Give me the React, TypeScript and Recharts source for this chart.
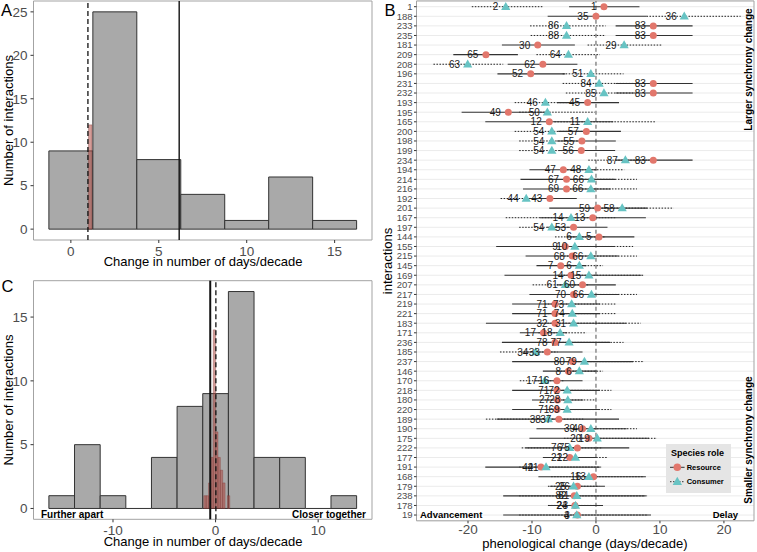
import React from "react";
import {
  ComposedChart,
  ScatterChart,
  Scatter,
  XAxis,
  YAxis,
  CartesianGrid,
  ReferenceArea,
  ReferenceLine,
  ErrorBar,
  LabelList,
} from "recharts";

const FONT = '"Liberation Sans", Arial, Helvetica, sans-serif';
const TICK = "#4D4D4D";
const GRID = "#EBEBEB";
const BORDER = "#A3A3A3";
const RES = "#E2776C";
const CON = "#67C3C3";

// panel A: change in synchrony (bins of 2.5 days/decade)
const binsA = [0, 2.5, 5, 7.5, 10, 12.5, 15];
const countsA = [9, 25, 8, 4, 1, 6, 1];
const nullBinsA = [1.1];
const nullCountsA = [12];
const dashedA = 0.97;
const solidA = 6.16;

// panel C: change in asynchrony
const binsC = [-15, -12.5, -10, -7.5, -5, -2.5, 0, 2.5, 5, 7.5, 10, 12.5];
const countsC = [1, 5, 1, 0, 4, 8, 9, 17, 4, 4, 0, 1];
const nullBinsC = [-1.03, -0.8, -0.57, -0.34, -0.11, 0.12, 0.35, 0.58, 0.81, 1.04, 1.27];
const nullCountsC = [1, 1, 2, 4, 14, 6, 4, 3, 2, 0, 1];
const dashedC = 0.03;
const solidC = -0.52;

// panel B: one row per interaction
const interactions = [
  "1", "188", "233", "235", "181", "209", "208", "196", "231", "232",
  "193", "195", "165", "200", "198", "199", "234", "194", "214", "216",
  "192", "201", "167", "197", "144", "155", "215", "145", "169", "207",
  "217", "219", "221", "183", "171", "236", "185", "237", "146", "170",
  "218", "180", "220", "189", "190", "175", "222", "177", "191", "168",
  "179", "238", "178", "19",
];
const resMean = [
  1.25, 0, 8.96, 8.96, -9.1, -17.2, -8.3, -10.2, 8.96, 8.96,
  -1.3, -13.7, -7.3, -1.5, -2.2, -2.3, 8.96, -5.1, -4.6, -4.6,
  -7.2, 0.26, -0.5, -3.5, 0.47, -4.8, -3.7, -5.5, -3.9, -2.1,
  -3.5, -6.4, -6.4, -6.4, -8.2, -6.4, -7.6, -3.7, -4.3, -6.1,
  -6.1, -6.0, -6.1, -5.8, -2.1, -1.1, -2.9, -4.1, -8.6, -0.4,
  -2.9, -3.4, -3.3, -2.9,
];
const resLow = [
  -4.2, -7.55, 3.07, 3.07, -14.7, -22.3, -13.8, -15.4, 3.07, 3.07,
  -6.1, -21.0, -17.3, -5.9, -6.1, -5.8, 3.07, -10.4, -11.8, -11.4,
  -10.8, -7.3, -8.75, -7.6, -4.6, -15.6, -11.0, -9.3, -14.3, -6.1,
  -10.4, -13.1, -13.1, -17.2, -11.9, -14.7, -11.5, -13.1, -8.3, -9.5,
  -13.1, -10.0, -13.1, -15.5, -9.3, -10.4, -11.0, -8.3, -17.3, -9.0,
  -7.2, -14.5, -7.4, -14.5,
];
const resHigh = [
  6.8, 7.9, 15.1, 15.1, -3.3, -12.2, -2.9, -4.8, 15.1, 15.1,
  3.6, -7.7, 2.7, 3.9, 3.1, 3.0, 15.1, 0.1, 3.0, 2.3,
  -3.0, 8.0, 7.8, 1.8, 6.0, 3.0, 3.5, -1.5, 7.1, 3.1,
  3.5, 0.6, 0.6, 4.7, -4.5, 2.2, -2.1, 5.8, 0.1, -2.1,
  0.6, -2.0, 0.6, 3.6, 4.8, 8.3, 5.2, 0.1, 0.6, 7.8,
  1.4, 7.7, 1.1, 8.6,
];
const resId = [
  "1", "35", "83", "83", "30", "65", "62", "52", "83", "83",
  "45", "49", "12", "57", "55", "56", "83", "47", "67", "69",
  "43", "59", "13", "53", "5", "9", "68", "7", "14", "60",
  "70", "71", "71", "32", "17", "78", "33", "80", "8", "16",
  "71", "27", "71", "37", "39", "20", "75", "21", "42", "13",
  "26", "82", "24", "3",
];
const conMean = [
  -14.1, 13.8, -4.6, -4.6, 4.4, -4.3, -20.05, -0.8, 0.5, 1.25,
  -7.9, -7.6, -1.3, -6.9, -6.9, -6.9, 4.6, -1.1, -0.7, -0.8,
  -10.9, 4.1, -3.9, -6.9, -2.6, -3.3, -0.8, -2.6, -1.1, -4.8,
  -0.7, -3.8, -3.7, -3.5, -5.6, -4.2, -9.4, -1.8, -2.6, -8.0,
  -4.5, -4.4, -4.5, -7.45, -0.8, 0.2, -4.1, -3.2, -7.8, -1.1,
  -3.5, -3.0, -3.2, -3.0,
];
const conLow = [
  -19.4, 7.9, -10.3, -10.2, -1.3, -9.3, -25.4, -5.2, -5.2, -4.7,
  -12.7, -12.0, -6.5, -12.7, -12.0, -12.0, -1.2, -5.0, -5.0, -5.0,
  -14.9, -1.0, -14.1, -12.0, -6.4, -8.0, -5.0, -6.0, -6.0, -9.9,
  -5.0, -8.0, -8.0, -9.0, -9.0, -9.0, -15.0, -7.0, -6.0, -11.9,
  -9.0, -8.0, -9.0, -17.2, -5.0, -5.0, -11.6, -7.0, -12.0, -7.0,
  -7.5, -12.0, -7.5, -12.0,
];
const conHigh = [
  -8.3, 22.6, 1.5, 1.5, 10.3, 0.6, -14.5, 4.3, 5.8, 5.8,
  -3.0, -0.2, 9.2, -2.0, -2.0, -2.0, 9.0, 4.4, 6.4, 6.4,
  -6.5, 12.1, 3.0, -3.0, 1.5, 5.8, 6.4, 1.1, 7.5, -1.0,
  6.4, 3.1, 3.1, 7.0, -1.5, 4.3, -6.0, 7.4, 1.1, -5.0,
  2.4, 0.0, 2.4, -2.0, 6.4, 9.5, 1.0, 1.7, 0.8, 7.5,
  0.5, 8.1, 0.5, 8.0,
];
const conId = [
  "2", "36", "86", "88", "29", "64", "63", "51", "84", "85",
  "46", "50", "11", "54", "54", "54", "87", "48", "66", "66",
  "44", "58", "14", "54", "6", "10", "66", "6", "15", "61",
  "66", "73", "74", "31", "18", "77", "34", "79", "6", "17",
  "72", "28", "69", "38", "40", "19", "76", "22", "41", "16",
  "25", "81", "23", "4",
];

const rowTicks = interactions.map((_, i) => i + 1);
const resPts = interactions.map((_, i) => ({
  row: i + 1,
  v: resMean[i],
  err: [resMean[i] - resLow[i], resHigh[i] - resMean[i]],
  lab: resId[i],
}));
const conPts = interactions.map((_, i) => ({
  row: i + 1,
  v: conMean[i],
  err: [conMean[i] - conLow[i], conHigh[i] - conMean[i]],
  lab: conId[i],
}));

const xGen = (vals: number[]) => (p: any) =>
  p && p.xAxis && typeof p.xAxis.scale === "function" ? vals.map((v) => p.xAxis.scale(v)) : [];
const yGen = (vals: number[]) => (p: any) =>
  p && p.yAxis && typeof p.yAxis.scale === "function" ? vals.map((v) => p.yAxis.scale(v)) : [];

const noShape = () => <g />;
const circleShape = (p: any) => <circle cx={p.cx} cy={p.cy} r={3.5} fill={RES} />;
const triShape = (p: any) => (
  <polygon
    points={`${p.cx},${p.cy - 4.8} ${p.cx - 4.6},${p.cy + 3.2} ${p.cx + 4.6},${p.cy + 3.2}`}
    fill={CON}
  />
);

interface HistProps {
  top: number;
  height: number;
  margin: { top: number; right: number; bottom: number; left: number };
  bins: number[];
  counts: number[];
  nullBins: number[];
  nullCounts: number[];
  nullWidth: number;
  xDomain: [number, number];
  yDomain: [number, number];
  xTicks: number[];
  xMinor: number[];
  yTicks: number[];
  yMinor: number[];
  dashed: number;
  solid: number;
  solidWidth: number;
}

function HistPanel(p: HistProps) {
  const data = p.bins.map((b, i) => ({ b, n: p.counts[i] }));
  return (
    <div style={{ position: "absolute", left: 0, top: p.top }}>
      <ComposedChart width={380} height={p.height} data={data} margin={p.margin}>
        <CartesianGrid
          stroke={GRID}
          verticalCoordinatesGenerator={xGen([...p.xTicks, ...p.xMinor])}
          horizontalCoordinatesGenerator={yGen([...p.yTicks, ...p.yMinor])}
        />
        <XAxis
          type="number"
          dataKey="b"
          domain={p.xDomain}
          allowDataOverflow
          ticks={p.xTicks}
          interval={0}
          height={20}
          tickSize={3}
          tickMargin={3}
          axisLine={false}
          tickLine={{ stroke: "#333" }}
          tick={{ fontSize: 13.5, fill: TICK }}
        />
        <YAxis
          type="number"
          dataKey="n"
          domain={p.yDomain}
          allowDataOverflow
          ticks={p.yTicks}
          interval={0}
          width={33.5}
          tickSize={3}
          tickMargin={3}
          axisLine={false}
          tickLine={{ stroke: "#333" }}
          tick={{ fontSize: 13.5, fill: TICK }}
        />
        {p.bins.map((b, i) =>
          p.counts[i] > 0 ? (
            <ReferenceArea
              key={`bar${i}`}
              x1={b - 1.25}
              x2={b + 1.25}
              y1={0}
              y2={p.counts[i]}
              fill="#A9A9A9"
              fillOpacity={1}
              stroke="#333"
              strokeWidth={1}
              ifOverflow="visible"
            />
          ) : (
            <ReferenceLine
              key={`zero${i}`}
              segment={[
                { x: b - 1.25, y: 0 },
                { x: b + 1.25, y: 0 },
              ]}
              stroke="#333"
              strokeWidth={1}
            />
          )
        )}
        {p.nullBins.map((b, i) =>
          p.nullCounts[i] > 0 ? (
            <ReferenceArea
              key={`null${i}`}
              x1={b - p.nullWidth / 2}
              x2={b + p.nullWidth / 2}
              y1={0}
              y2={p.nullCounts[i]}
              fill="#B04A44"
              fillOpacity={0.55}
              stroke="#7A2E2A"
              strokeOpacity={0.55}
              strokeWidth={0.6}
              ifOverflow="visible"
            />
          ) : null
        )}
        <ReferenceLine x={p.dashed} stroke="#111" strokeWidth={1.3} strokeDasharray="5 3" />
        <ReferenceLine x={p.solid} stroke="#111" strokeWidth={p.solidWidth} />
        <ReferenceArea
          x1={p.xDomain[0]}
          x2={p.xDomain[1]}
          y1={p.yDomain[0]}
          y2={p.yDomain[1]}
          fill="none"
          stroke={BORDER}
          strokeWidth={1}
          ifOverflow="visible"
        />
      </ComposedChart>
    </div>
  );
}

function PanelB() {
  const xDomain: [number, number] = [-28.05, 24.7];
  const yDomain: [number, number] = [0.4, 54.6];
  return (
    <div style={{ position: "absolute", left: 370, top: 0 }}>
      <ScatterChart width={387} height={552} margin={{ top: 0.94, right: 3, bottom: 0, left: 0 }}>
        <CartesianGrid
          stroke={GRID}
          verticalCoordinatesGenerator={xGen([-25, -20, -15, -10, -5, 0, 5, 10, 15, 20])}
        />
        <XAxis
          type="number"
          dataKey="v"
          domain={xDomain}
          allowDataOverflow
          ticks={[-20, -10, 0, 10, 20]}
          interval={0}
          height={31.2}
          tickSize={2.5}
          tickMargin={1}
          axisLine={false}
          tickLine={{ stroke: "#333" }}
          tick={{ fontSize: 13.5, fill: TICK }}
        />
        <YAxis
          type="number"
          dataKey="row"
          domain={yDomain}
          reversed
          allowDataOverflow
          ticks={rowTicks}
          interval={0}
          tickFormatter={(v: number) => interactions[v - 1]}
          width={46.5}
          tickSize={2.5}
          tickMargin={1.5}
          axisLine={false}
          tickLine={{ stroke: "#333" }}
          tick={{ fontSize: 9.5, fill: TICK }}
        />
        <ReferenceLine x={0} stroke="#707070" strokeWidth={1.2} strokeDasharray="4 3" />
        <Scatter data={conPts} shape={noShape} isAnimationActive={false}>
          <ErrorBar dataKey="err" direction="x" width={0} stroke="#222" strokeWidth={1} strokeDasharray="1.5 1.5" />
        </Scatter>
        <Scatter data={resPts} shape={noShape} isAnimationActive={false}>
          <ErrorBar dataKey="err" direction="x" width={0} stroke="#333" strokeWidth={1.1} />
        </Scatter>
        <Scatter data={resPts} shape={circleShape} isAnimationActive={false}>
          <LabelList dataKey="lab" position="left" offset={3} fontSize={10} fill="#1A1A1A" />
        </Scatter>
        <Scatter data={conPts} shape={triShape} isAnimationActive={false}>
          <LabelList dataKey="lab" position="left" offset={3} fontSize={10} fill="#1A1A1A" />
        </Scatter>
        <ReferenceArea
          x1={xDomain[0]}
          x2={xDomain[1]}
          y1={yDomain[0]}
          y2={yDomain[1]}
          fill="none"
          stroke={BORDER}
          strokeWidth={1}
          ifOverflow="visible"
        />
      </ScatterChart>
    </div>
  );
}

function Overlay() {
  return (
    <svg
      width={757}
      height={552}
      style={{ position: "absolute", left: 0, top: 0, pointerEvents: "none", fontFamily: FONT }}
    >
      <text x={1} y={15.5} fontSize={16.5} fill="#000">A</text>
      <text x={384.5} y={15.5} fontSize={16.5} fill="#000">B</text>
      <text x={1.5} y={292} fontSize={16.5} fill="#000">C</text>

      <text transform="translate(12.5,120.5) rotate(-90)" textAnchor="middle" fontSize={13} fill="#000">
        Number of interactions
      </text>
      <text x={203} y={266} textAnchor="middle" fontSize={13} fill="#000">
        Change in number of days/decade
      </text>
      <text transform="translate(12.5,400) rotate(-90)" textAnchor="middle" fontSize={13} fill="#000">
        Number of interactions
      </text>
      <text x={203} y={546} textAnchor="middle" fontSize={13} fill="#000">
        Change in number of days/decade
      </text>
      <text x={41} y={518} fontSize={10} fontWeight={700} fill="#000">Further apart</text>
      <text x={366} y={518} textAnchor="end" fontSize={10} fontWeight={700} fill="#000">
        Closer together
      </text>

      <text transform="translate(391.5,261) rotate(-90)" textAnchor="middle" fontSize={13} fill="#000">
        interactions
      </text>
      <text x={585} y={547.5} textAnchor="middle" fontSize={13} fill="#000">
        phenological change (days/decade)
      </text>
      <text x={420} y={517.5} fontSize={9.5} fontWeight={700} fill="#000">Advancement</text>
      <text x={738} y={517.5} textAnchor="end" fontSize={9.5} fontWeight={700} fill="#000">Delay</text>
      <text transform="translate(751.5,69.5) rotate(-90)" textAnchor="middle" fontSize={10} fontWeight={700} fill="#000">
        Larger synchrony change
      </text>
      <text transform="translate(751.5,440) rotate(-90)" textAnchor="middle" fontSize={10} fontWeight={700} fill="#000">
        Smaller synchrony change
      </text>

      <rect x={666} y={444} width={65} height={49} fill="#E5E5E5" />
      <text x={671} y={455.5} fontSize={9} fontWeight={700} fill="#000">Species role</text>
      <line x1={670} x2={684.6} y1={467.3} y2={467.3} stroke="#333" strokeWidth={1} />
      <circle cx={677.3} cy={467.3} r={3.8} fill={RES} />
      <text x={686.7} y={470} fontSize={7.5} fontWeight={700} fill="#000">Resource</text>
      <line x1={670} x2={684.6} y1={481.7} y2={481.7} stroke="#333" strokeWidth={1} strokeDasharray="1.5 1.5" />
      <polygon points="677.3,476.8 672.6,484.9 682,484.9" fill={CON} />
      <text x={686.7} y={484.4} fontSize={7.5} fontWeight={700} fill="#000">Consumer</text>
    </svg>
  );
}

export default function App() {
  return (
    <div
      style={{
        position: "absolute",
        left: 0,
        top: 0,
        width: 757,
        height: 552,
        background: "#fff",
        fontFamily: FONT,
      }}
    >
      <HistPanel
        top={0}
        height={270}
        margin={{ top: 1, right: 8, bottom: 10, left: 0 }}
        bins={binsA}
        counts={countsA}
        nullBins={nullBinsA}
        nullCounts={nullCountsA}
        nullWidth={0.2}
        xDomain={[-2.125, 17.125]}
        yDomain={[-1.25, 26.25]}
        xTicks={[0, 5, 10, 15]}
        xMinor={[2.5, 7.5, 12.5]}
        yTicks={[0, 5, 10, 15, 20, 25]}
        yMinor={[2.5, 7.5, 12.5, 17.5, 22.5]}
        dashed={dashedA}
        solid={solidA}
        solidWidth={1.4}
      />
      <HistPanel
        top={270}
        height={282}
        margin={{ top: 10.7, right: 8, bottom: 12.7, left: 0 }}
        bins={binsC}
        counts={countsC}
        nullBins={nullBinsC}
        nullCounts={nullCountsC}
        nullWidth={0.23}
        xDomain={[-17.75, 15.25]}
        yDomain={[-0.85, 17.85]}
        xTicks={[-10, 0, 10]}
        xMinor={[-15, -5, 5, 15]}
        yTicks={[0, 5, 10, 15]}
        yMinor={[2.5, 7.5, 12.5, 17.5]}
        dashed={dashedC}
        solid={solidC}
        solidWidth={2}
      />
      <PanelB />
      <Overlay />
    </div>
  );
}
